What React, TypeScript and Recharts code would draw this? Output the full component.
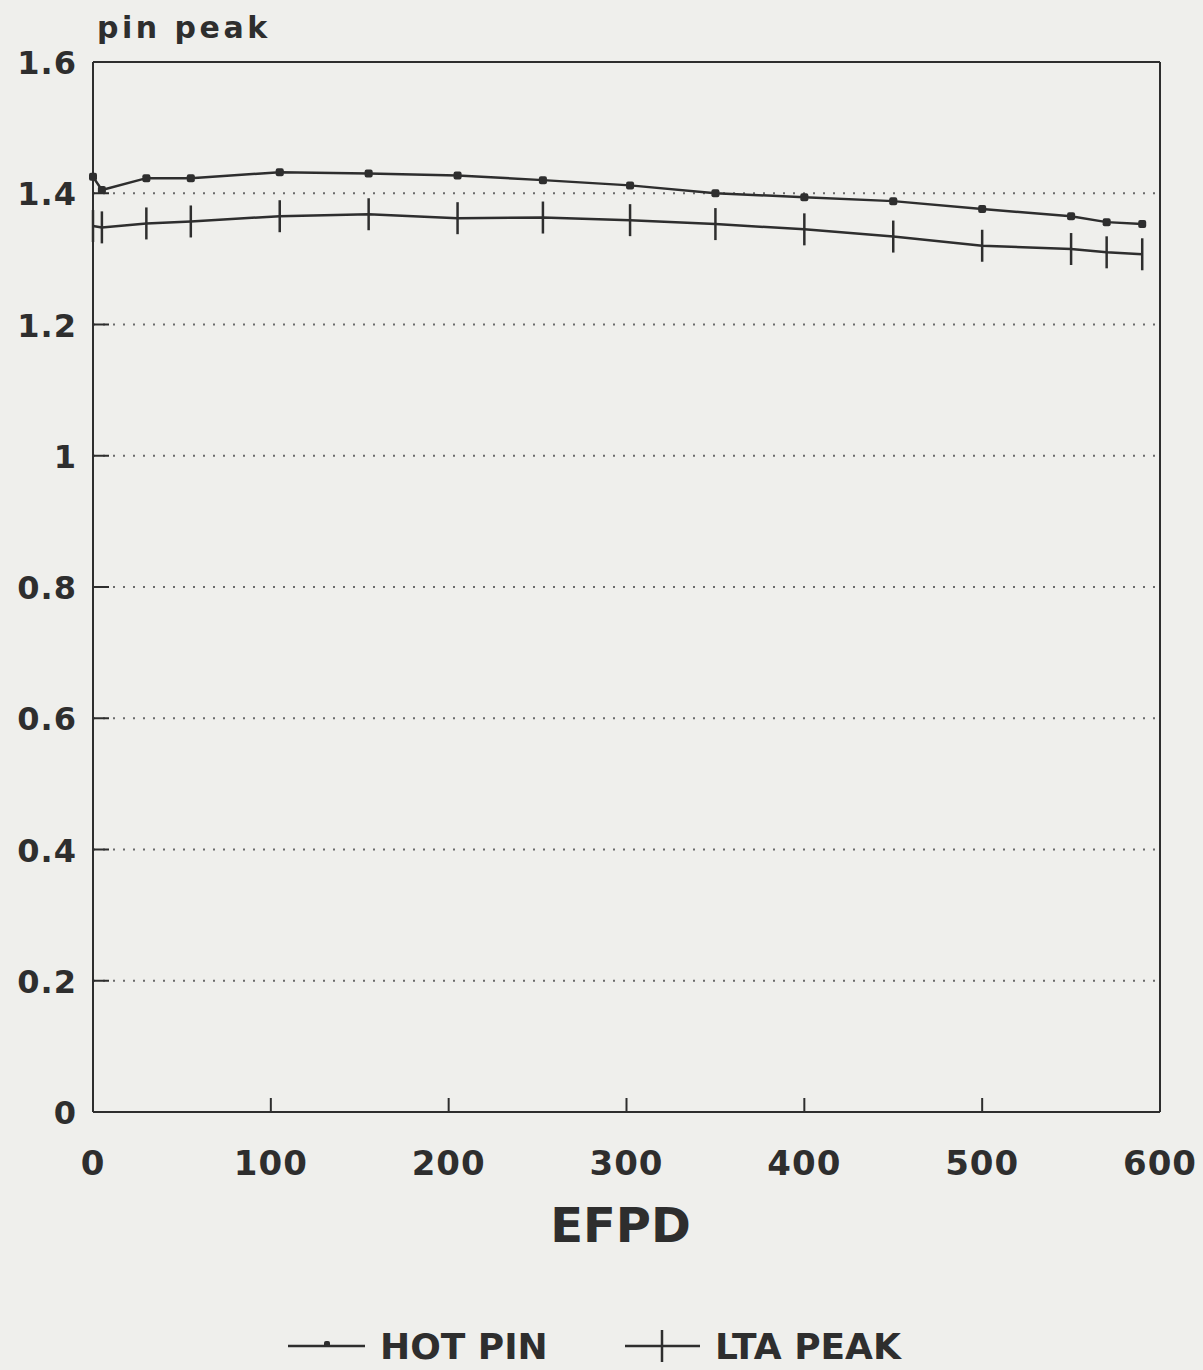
import React, { useLayoutEffect } from "react";
import {
  ComposedChart,
  Line,
  XAxis,
  YAxis,
  CartesianGrid,
  ReferenceLine,
  Legend,
} from "recharts";

const efpd = [0, 5, 30, 55, 105, 155, 205, 253, 302, 350, 400, 450, 500, 550, 570, 590];
const hotPin = [1.425, 1.405, 1.423, 1.423, 1.432, 1.43, 1.427, 1.42, 1.412, 1.4, 1.394, 1.388, 1.376, 1.365, 1.356, 1.353];
const ltaPeak = [1.35, 1.348, 1.354, 1.357, 1.365, 1.368, 1.362, 1.363, 1.359, 1.353, 1.345, 1.334, 1.32, 1.315, 1.31, 1.307];

const xTicks = [0, 100, 200, 300, 400, 500, 600];
const yTicks = [0, 0.2, 0.4, 0.6, 0.8, 1, 1.2, 1.4, 1.6];
const yLabels = ["0", "0.2", "0.4", "0.6", "0.8", "1", "1.2", "1.4", "1.6"];

const data = efpd.map((d, i) => ({ efpd: d, hot: hotPin[i], lta: ltaPeak[i] }));

const INK = "#2e2e2e";
const BG = "#efefec";
const FONT = "'DejaVu Sans', sans-serif";

const XTick = (props: any) => {
  const { x, y, payload } = props;
  return (
    <g>
      <line x1={x} x2={x} y1={y} y2={y - 14} stroke={INK} strokeWidth={2} />
      <text x={x} y={y + 63} textAnchor="middle" fill={INK} fontFamily={FONT} fontWeight="bold" fontSize={34} letterSpacing={1}>
        {payload.value}
      </text>
    </g>
  );
};

const YTick = (props: any) => {
  const { x, y, payload } = props;
  const i = yTicks.indexOf(payload.value);
  return (
    <g>
      <line x1={x} x2={x + 16} y1={y} y2={y} stroke={INK} strokeWidth={2} />
      <text x={x - 16} y={y + 12} textAnchor="end" fill={INK} fontFamily={FONT} fontWeight="bold" fontSize={32} letterSpacing={1}>
        {yLabels[i]}
      </text>
    </g>
  );
};

const HotDot = (props: any) => {
  const { cx, cy } = props;
  return <rect x={cx - 4} y={cy - 4} width={8} height={8} rx={2} fill={INK} />;
};

const LtaDot = (props: any) => {
  const { cx, cy } = props;
  return <line x1={cx} x2={cx} y1={cy - 16} y2={cy + 16} stroke={INK} strokeWidth={2.5} />;
};

const LegendContent = () => (
  <svg width={1203} height={48}>
    <line x1={288} x2={365} y1={24} y2={24} stroke={INK} strokeWidth={2.5} />
    <rect x={324} y={19} width={6} height={6} rx={2} fill={INK} />
    <text x={380} y={37} fill={INK} fontFamily={FONT} fontWeight="bold" fontSize={36}>HOT PIN</text>
    <line x1={625} x2={700} y1={24} y2={24} stroke={INK} strokeWidth={2.5} />
    <line x1={662} x2={662} y1={8} y2={40} stroke={INK} strokeWidth={2.5} />
    <text x={715} y={37} fill={INK} fontFamily={FONT} fontWeight="bold" fontSize={36}>LTA PEAK</text>
  </svg>
);

export default function App() {
  useLayoutEffect(() => {
    document.body.style.margin = "0";
    document.body.style.background = BG;
  }, []);
  return (
    <div style={{ width: 1203, height: 1370, background: BG }}>
      <ComposedChart
        width={1203}
        height={1370}
        data={data}
        margin={{ top: 62, right: 43, left: 0, bottom: 0 }}
      >
        <CartesianGrid horizontal vertical={false} stroke="#6a6a6a" strokeWidth={2} strokeDasharray="2 8" />
        <XAxis
          dataKey="efpd"
          type="number"
          domain={[0, 600]}
          ticks={xTicks}
          height={210}
          tickLine={false}
          tickSize={0}
          tickMargin={0}
          stroke={INK}
          strokeWidth={2}
          tick={<XTick />}
          label={{
            value: "EFPD",
            position: "insideTop",
            offset: 0,
            dy: 96,
            dx: -6,
            fill: INK,
            fontSize: 48,
            fontWeight: "bold",
            fontFamily: FONT,
          }}
        />
        <YAxis
          type="number"
          domain={[0, 1.6]}
          ticks={yTicks}
          width={93}
          tickLine={false}
          tickSize={0}
          tickMargin={0}
          stroke={INK}
          strokeWidth={2}
          tick={<YTick />}
          label={(p: any) => {
            const vb = p.viewBox || {};
            return (
              <text x={vb.x + vb.width + 4} y={vb.y - 24} fill={INK} fontFamily={FONT} fontWeight="bold" fontSize={30} letterSpacing={3.5}>
                pin peak
              </text>
            );
          }}
        />
        <ReferenceLine y={1.6} stroke={INK} strokeWidth={2} />
        <ReferenceLine x={600} stroke={INK} strokeWidth={2} />
        <Line
          dataKey="hot"
          name="HOT PIN"
          stroke={INK}
          strokeWidth={2.5}
          dot={<HotDot />}
          activeDot={false}
          isAnimationActive={false}
        />
        <Line
          dataKey="lta"
          name="LTA PEAK"
          stroke={INK}
          strokeWidth={2.5}
          dot={<LtaDot />}
          activeDot={false}
          isAnimationActive={false}
        />
        <Legend
          verticalAlign="bottom"
          height={48}
          wrapperStyle={{ left: 0, width: 1203 }}
          content={<LegendContent />}
        />
      </ComposedChart>
    </div>
  );
}
